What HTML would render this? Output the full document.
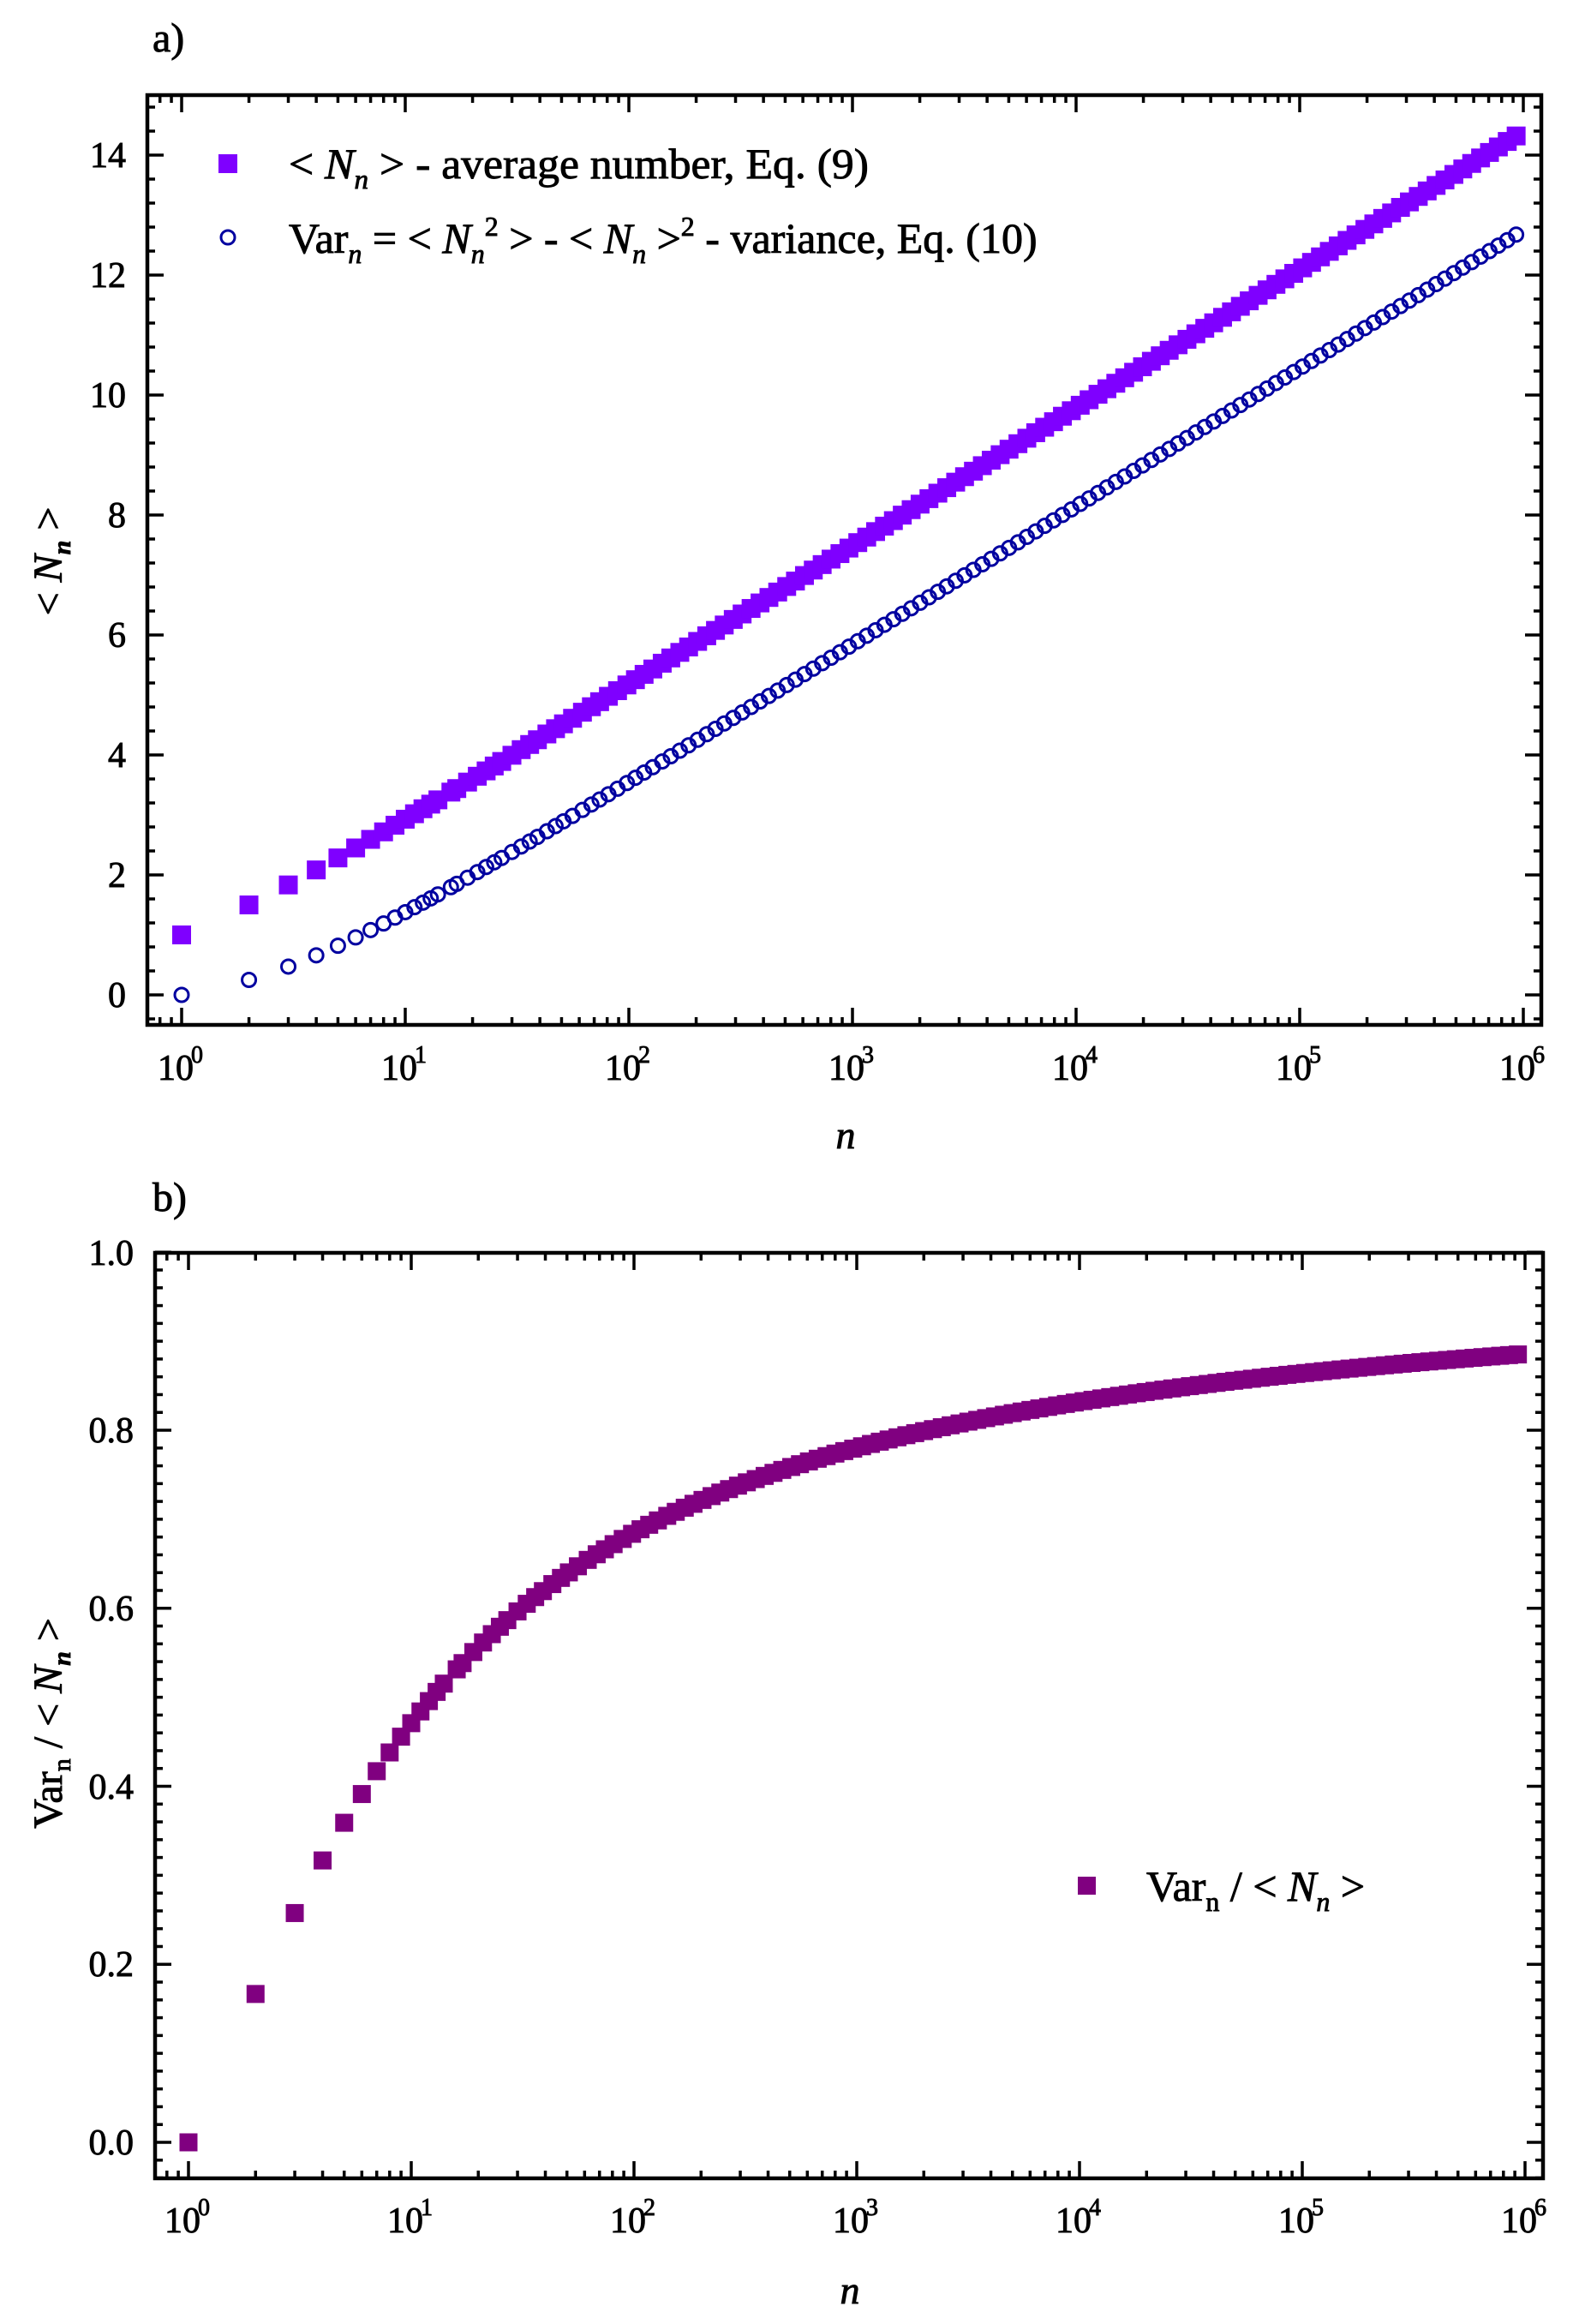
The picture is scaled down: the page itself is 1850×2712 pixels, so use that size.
<!DOCTYPE html>
<html><head><meta charset="utf-8"><style>
html,body{margin:0;padding:0;background:#fff}
svg{display:block}
text{font-family:"Liberation Serif",serif;fill:#000;stroke:#000;stroke-width:0.9px}
</style></head><body>
<svg id="s" xmlns="http://www.w3.org/2000/svg" width="1850" height="2712" viewBox="0 0 1850 2712">
<rect width="1850" height="2712" fill="#fff"/>
<g id="pa"></g><g id="pb"></g>
<text x="178" y="60" font-size="48">a)</text>
<text x="178" y="1413" font-size="48">b)</text>
<g font-size="42" text-anchor="end">
<text x="147" y="1175">0</text><text x="147" y="1035">2</text><text x="147" y="895">4</text><text x="147" y="755">6</text>
<text x="147" y="615">8</text><text x="147" y="475">10</text><text x="147" y="335">12</text><text x="147" y="195">14</text>
</g>
<g font-size="42" text-anchor="end">
<text x="156" y="2514">0.0</text><text x="156" y="2306">0.2</text><text x="156" y="2099">0.4</text>
<text x="156" y="1891">0.6</text><text x="156" y="1683">0.8</text><text x="156" y="1476">1.0</text>
</g>
<g font-size="42" text-anchor="middle">
<text x="205" y="1260">10</text><text x="466" y="1260">10</text><text x="727" y="1260">10</text><text x="988" y="1260">10</text><text x="1249" y="1260">10</text><text x="1510" y="1260">10</text><text x="1771" y="1260">10</text>
</g>
<g font-size="28">
<text x="223" y="1240">0</text><text x="484" y="1240">1</text><text x="745" y="1240">2</text><text x="1006" y="1240">3</text><text x="1267" y="1240">4</text><text x="1528" y="1240">5</text><text x="1789" y="1240">6</text>
</g>
<g font-size="42" text-anchor="middle">
<text x="213" y="2605">10</text><text x="473" y="2605">10</text><text x="733" y="2605">10</text><text x="993" y="2605">10</text><text x="1253" y="2605">10</text><text x="1513" y="2605">10</text><text x="1773" y="2605">10</text>
</g>
<g font-size="28">
<text x="231" y="2585">0</text><text x="491" y="2585">1</text><text x="751" y="2585">2</text><text x="1011" y="2585">3</text><text x="1271" y="2585">4</text><text x="1531" y="2585">5</text><text x="1791" y="2585">6</text>
</g>
<text x="987" y="1340" font-size="46" font-style="italic" text-anchor="middle">n</text>
<text x="992" y="2688" font-size="46" font-style="italic" text-anchor="middle">n</text>
<text transform="translate(72,655) rotate(-90)" font-size="48" text-anchor="middle">&lt; <tspan font-style="italic">N</tspan><tspan font-style="italic" font-weight="bold" font-size="30" dy="10">n</tspan><tspan dy="-10"> &gt;</tspan></text>
<text transform="translate(72,2011) rotate(-90)" font-size="48" text-anchor="middle">Var<tspan font-size="30" dy="10">n</tspan><tspan dy="-10"> / &lt; </tspan><tspan font-style="italic">N</tspan><tspan font-style="italic" font-weight="bold" font-size="30" dy="10">n</tspan><tspan dy="-10"> &gt;</tspan></text>
<rect x="255" y="180" width="22" height="22" fill="#7F00FF"/>
<circle cx="266" cy="277" r="8" fill="none" stroke="#0000A0" stroke-width="3"/>
<text x="337" y="208" font-size="50" textLength="677" lengthAdjust="spacingAndGlyphs">&lt; <tspan font-style="italic">N</tspan><tspan font-style="italic" font-size="32" dy="12">n</tspan><tspan dy="-12"> &gt; - average number,  Eq. (9)</tspan></text>
<text x="337" y="295" font-size="50">Var<tspan font-style="italic" font-size="32" dy="12">n</tspan><tspan dy="-12"> = &lt; </tspan><tspan font-style="italic">N</tspan><tspan font-style="italic" font-size="32" dy="12">n</tspan><tspan font-size="32" dy="-32">2</tspan><tspan dy="20"> &gt; - &lt; </tspan><tspan font-style="italic">N</tspan><tspan font-style="italic" font-size="32" dy="12">n</tspan><tspan dy="-12"> &gt;</tspan><tspan font-size="32" dy="-20">2</tspan><tspan dy="20"> - variance,  Eq. (10)</tspan></text>
<rect x="1258" y="2190" width="21" height="21" fill="#800080"/>
<text x="1338" y="2218" font-size="50">Var<tspan font-size="32" dy="12">n</tspan><tspan dy="-12"> / &lt; </tspan><tspan font-style="italic">N</tspan><tspan font-style="italic" font-size="32" dy="12">n</tspan><tspan dy="-12"> &gt;</tspan></text>
</svg>
<script>
(function(){
var NS="http://www.w3.org/2000/svg";
function el(p,t,a){var e=document.createElementNS(NS,t);for(var k in a)e.setAttribute(k,a[k]);p.appendChild(e);return e;}
function panel(g,L,R,T,B,x0,dec,yf,ymin,ymax,majStep,minStep){
  var lw=3.5;
  var nmin=Math.ceil(ymin/minStep-1e-6), nmax=Math.floor(ymax/minStep+1e-6);
  for(var i=nmin;i<=nmax;i++){
    var v=i*minStep, y=yf(v);
    var maj=Math.abs(v/majStep-Math.round(v/majStep))<1e-6;
    var len=maj?19:9;
    el(g,"line",{x1:L,y1:y,x2:L+len,y2:y,stroke:"#000","stroke-width":lw});
    el(g,"line",{x1:R,y1:y,x2:R-len,y2:y,stroke:"#000","stroke-width":lw});
  }
  for(var d=-1;d<=6;d++){
    for(var m=1;m<=9;m++){
      var x=x0+dec*(d+Math.log10(m));
      if(x<L+2||x>R-2)continue;
      var len=(m==1)?20:9;
      el(g,"line",{x1:x,y1:B,x2:x,y2:B-len,stroke:"#000","stroke-width":lw});
      el(g,"line",{x1:x,y1:T,x2:x,y2:T+len,stroke:"#000","stroke-width":lw});
    }
  }
  el(g,"rect",{x:L,y:T,width:R-L,height:B-T,fill:"none",stroke:"#000","stroke-width":4.5});
}
var pa=document.getElementById("pa"), pb=document.getElementById("pb");
var ya=function(v){return 1161-70*v;}, yb=function(v){return 2500-1038.75*v;};
var seen={};
for(var i=0;i<=150;i++){var n=Math.round(Math.pow(10,i/25*(5.968/6)));seen[n]=1;}
var N=930000,h=0,h2=0,res=[];
for(var k=1;k<=N;k++){h+=1/k;h2+=1/(k*k);if(seen[k])res.push([k,h,h-h2]);}
res.forEach(function(r){
  var x=212+261*Math.log10(r[0]);
  el(pa,"rect",{x:x-11,y:ya(r[1])-11,width:22,height:22,fill:"#7F00FF"});
});
res.forEach(function(r){
  var x=212+261*Math.log10(r[0]);
  el(pa,"circle",{cx:x,cy:ya(r[2]),r:8,fill:"none",stroke:"#0000A0","stroke-width":3});
});
res.forEach(function(r){
  var x=220+260*Math.log10(r[0]);
  el(pb,"rect",{x:x-10.5,y:yb(r[2]/r[1])-10.5,width:21,height:21,fill:"#800080"});
});
panel(pa,172,1799,111,1196,212,261,ya,-0.5,15,2,0.4);
panel(pb,181,1801,1462,2542,220,260,yb,-0.04,1.0,0.2,0.02);
})();
</script>
</body></html>
